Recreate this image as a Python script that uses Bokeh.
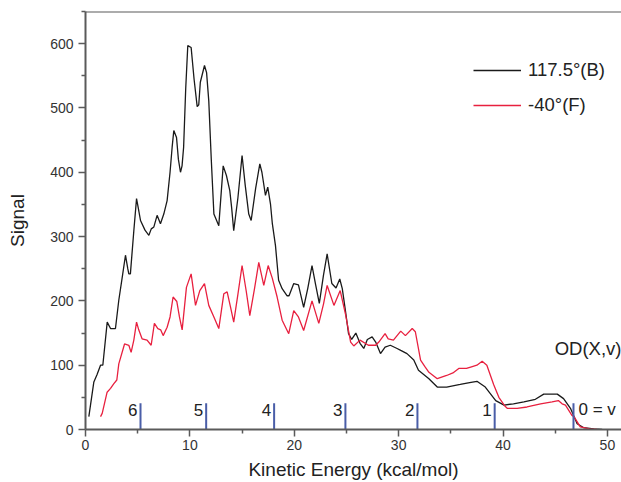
from bokeh.plotting import figure
from bokeh.models import Range1d, Legend, LegendItem, Span, ColumnDataSource, FixedTicker
from bokeh.core.properties import value
from bokeh.embed import file_html
from bokeh.resources import INLINE

# ---- data ----
black_x = [0.32, 0.8, 1.1, 1.44, 1.66, 2.08, 2.4, 2.87, 3.19, 3.55, 3.83, 4.05, 4.15, 4.3, 4.63, 4.89,
           5.05, 5.27, 5.7, 6.07, 6.3, 6.55, 6.86, 7.18, 7.5, 7.82, 8.1, 8.3, 8.46, 8.72, 8.9, 9.1,
           9.25, 9.4, 9.6, 9.8, 10.12, 10.4, 10.7, 10.85, 11.0, 11.4, 11.6, 11.81, 12.05, 12.3, 12.77,
           13.19, 13.5, 13.82, 14.0, 14.2, 14.6, 15.0, 15.3, 15.64, 15.87, 16.3, 16.7, 16.9, 17.24,
           17.46, 17.72, 17.9, 18.2, 18.5, 18.84, 19.3, 19.5, 19.95, 20.4, 20.9, 21.3, 21.7, 22.05,
           22.4, 22.8, 23.15, 23.6, 24.0, 24.36, 24.6, 24.9, 25.2, 25.5, 25.9, 26.3, 26.66, 27.0,
           27.46, 27.8, 28.26, 28.7, 29.2, 29.85, 30.2, 30.8, 31.45, 31.9, 32.9, 33.7, 34.6, 35.9,
           36.8, 37.5, 38.3, 39.3, 40.1, 41.0, 42.0, 43.1, 43.9, 45.2, 45.8, 46.46, 47.1, 47.7,
           48.7, 49.5]
black_y = [20, 74, 85, 100, 100, 167, 157, 157, 201, 240, 271, 250, 242, 242, 309, 359,
           345, 325, 310, 302, 312, 315, 333, 320, 335, 356, 400, 439, 465, 454, 420, 400,
           410, 439, 530, 597, 594, 545, 502, 505, 540, 566, 555, 511, 420, 335, 317,
           410, 395, 372, 345, 309, 360, 426, 380, 335, 325, 375, 413, 400, 364,
           377, 351, 320, 286, 232, 219, 208, 208, 227, 225, 190, 220, 255, 225,
           196, 240, 273, 227, 220, 234, 219, 185, 149, 140, 150, 134, 126, 140,
           144, 136, 118, 128, 131, 126, 123, 118, 108, 92, 79, 66, 66, 70,
           73, 75, 66, 45, 38, 40, 43, 47, 55, 55, 48, 33, 9, 3,
           1, 0]

red_x = [1.44, 1.6, 2.07, 2.4, 2.7, 3.0, 3.19, 3.74, 4.15, 4.37, 4.63, 4.89, 5.1, 5.42, 5.9, 6.29,
         6.6, 6.93, 7.2, 7.44, 7.82, 8.1, 8.39, 8.75, 9.0, 9.26, 9.67, 10.12, 10.54, 10.95, 11.4,
         11.81, 12.3, 12.77, 13.25, 13.57, 13.9, 14.2, 14.6, 15.0, 15.4, 15.74, 16.2, 16.6, 17.08,
         17.5, 17.9, 18.36, 18.84, 19.47, 19.95, 20.4, 20.9, 21.7, 22.35, 22.8, 23.15, 23.8, 24.4,
         24.9, 25.4, 25.7, 26.3, 27.1, 27.8, 28.1, 28.7, 29.0, 29.5, 30.2, 30.65, 31.3, 31.6, 32.1,
         32.5, 32.9, 33.7, 34.6, 35.2, 35.76, 36.5, 36.9, 37.5, 38.0, 38.45, 39.1, 39.6, 40.2, 40.4,
         41.35, 42.3, 43.6, 44.7, 45.3, 45.66, 45.98, 46.6, 46.8, 47.4, 48.3, 49.0]
red_y = [20, 25, 58, 64, 71, 77, 102, 133, 131, 120, 139, 167, 155, 141, 139, 131,
         165, 157, 155, 146, 159, 175, 206, 199, 175, 155, 221, 242, 193, 216, 227,
         193, 175, 157, 211, 214, 190, 167, 210, 255, 215, 177, 220, 260, 224,
         255, 235, 206, 170, 149, 185, 175, 154, 200, 165, 195, 224, 193, 216,
         180, 136, 130, 139, 131, 131, 136, 149, 141, 139, 153, 146, 157, 152, 108,
         98, 89, 79, 84, 88, 95, 95, 97, 100, 106, 100, 70, 50, 36, 33,
         33, 35, 40, 43, 45, 40, 38, 22, 20, 4, 1, 0]

series_names = ["117.5\u00b0(B)", "-40\u00b0(F)"]

marker_x = [5.27, 11.56, 18.07, 24.9, 31.8, 39.2, 46.75]
marker_labels = ["6", "5", "4", "3", "2", "1", "0 = v"]
marker_height = 41

note_text = "OD(X,v)"
note_x = 44.95
note_y = 126

x_ticks = [0, 10, 20, 30, 40, 50]
x_minor = [5, 15, 25, 35, 45]
y_ticks = [0, 100, 200, 300, 400, 500, 600]
y_minor = [50, 150, 250, 350, 450, 550, 650]

FONT = "Liberation Sans"
AXIS_COLOR = "#5a5a5a"
TEXT_COLOR = "#333333"

p = figure(width=621, height=482, output_backend="svg", toolbar_location=None,
           x_range=Range1d(0, 51.35), y_range=Range1d(0, 650),
           min_border_left=85, min_border_right=0, min_border_top=11, min_border_bottom=53)
p.outline_line_color = None
p.xgrid.visible = False
p.ygrid.visible = False
p.background_fill_color = "white"

for ax in (p.xaxis[0], p.yaxis[0]):
    ax.axis_line_color = AXIS_COLOR
    ax.axis_line_width = 2
    ax.major_tick_line_color = AXIS_COLOR
    ax.major_tick_line_width = 1.5
    ax.minor_tick_line_color = AXIS_COLOR
    ax.minor_tick_line_width = 1.5
    ax.major_tick_in = 0
    ax.major_tick_out = 7
    ax.minor_tick_in = 0
    ax.minor_tick_out = 4
    ax.major_label_text_font = FONT
    ax.major_label_text_font_size = "14px"
    ax.major_label_text_color = TEXT_COLOR
    ax.axis_label_text_font = FONT
    ax.axis_label_text_font_size = "19px"
    ax.axis_label_text_font_style = "normal"
    ax.axis_label_text_color = "#222222"

p.xaxis[0].ticker = FixedTicker(ticks=x_ticks, minor_ticks=x_minor)
p.yaxis[0].ticker = FixedTicker(ticks=y_ticks, minor_ticks=y_minor)
p.xaxis.axis_label = "Kinetic Energy (kcal/mol)"
p.yaxis.axis_label = "Signal"
p.xaxis.major_label_standoff = 3
p.xaxis.axis_label_standoff = 6
p.yaxis.major_label_standoff = 5
p.yaxis.axis_label_standoff = 19

# top frame line
p.add_layout(Span(location=650, dimension="width", line_color=AXIS_COLOR, line_width=2))

# curves
r_black = p.line(black_x, black_y, line_color="#1a1a1a", line_width=1.3)
r_red = p.line(red_x, red_y, line_color="#e8203f", line_width=1.3)

# vibrational markers
msrc = ColumnDataSource(dict(x=marker_x, y0=[0] * len(marker_x), y1=[marker_height] * len(marker_x)))
p.segment(x0="x", y0="y0", x1="x", y1="y1", source=msrc, line_color="#4a5ea8", line_width=2)
lab_src = ColumnDataSource(dict(x=marker_x[:-1], y=[31] * (len(marker_x) - 1), label=marker_labels[:-1]))
p.text(x="x", y="y", text="label", source=lab_src, text_align="right", text_baseline="middle",
       x_offset=-3, text_font=value(FONT), text_font_size="17px", text_color="#222222")
last_src = ColumnDataSource(dict(x=marker_x[-1:], y=[31], label=marker_labels[-1:]))
p.text(x="x", y="y", text="label", source=last_src, text_align="left", text_baseline="middle",
       x_offset=5, text_font=value(FONT), text_font_size="17px", text_color="#222222")

note_src = ColumnDataSource(dict(x=[note_x], y=[note_y], label=[note_text]))
p.text(x="x", y="y", text="label", source=note_src, text_align="left", text_baseline="middle",
       text_font=value(FONT), text_font_size="18.5px", text_color="#222222")

legend = Legend(items=[LegendItem(label=series_names[0], renderers=[r_black]),
                       LegendItem(label=series_names[1], renderers=[r_red])],
                location=(388, 313), glyph_width=48, glyph_height=20, label_height=20,
                spacing=13, padding=0, margin=0, label_standoff=7,
                border_line_color=None, background_fill_alpha=0,
                label_text_font=FONT, label_text_font_size="18.5px", label_text_color="#222222")
p.add_layout(legend)

open("out.html", "w").write(file_html(p, INLINE))
